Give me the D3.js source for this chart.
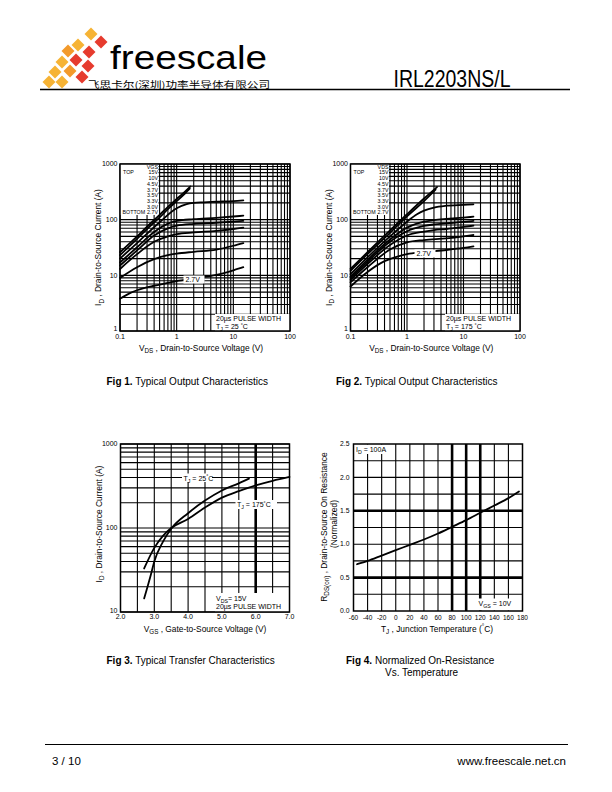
<!DOCTYPE html>
<html><head><meta charset="utf-8">
<script src="https://cdn.jsdelivr.net/npm/d3@7/dist/d3.min.js"></script>
<style>
body{margin:0;background:#fff}
svg{display:block}
text{font-family:"Liberation Sans",Arial,Helvetica,sans-serif;fill:#000}
</style>
</head><body>
<svg id="page" width="612" height="792"></svg>
<script>
// ---------------- DATA ----------------
const vgsLevels = ["15V","10V","4.5V","3.7V","3.5V","3.3V","3.0V","2.7V"];

// Fig 1: Typical output characteristics, TJ = 25 C  [VDS (V), ID (A)]
const fig1_15V  = [[0.1,26],[0.2,50],[0.3,75],[0.5,122],[0.7,170],[1,235],[1.4,320],[1.75,395]];
const fig1_10V  = [[0.1,23],[0.2,45],[0.3,68],[0.5,110],[0.7,155],[1,215],[1.4,295],[1.7,360]];
const fig1_4V5  = [[0.1,20],[0.2,38],[0.5,90],[1,160],[1.5,190],[2,200],[3,205],[5,210],[10,216],[15,222]];
const fig1_3V7  = [[0.1,17],[0.2,32],[0.4,60],[0.7,85],[1,95],[2,102],[5,108],[10,114],[15,118]];
const fig1_3V5  = [[0.1,15],[0.2,28],[0.4,52],[0.7,70],[1,78],[2,84],[5,88],[10,92],[15,95]];
const fig1_3V3  = [[0.1,13],[0.2,24],[0.4,40],[0.7,50],[1,55],[2,59],[5,63],[10,68],[15,72]];
const fig1_3V0  = [[0.1,9],[0.2,14],[0.4,19.5],[0.7,23],[1,24.5],[2,26.5],[5,29],[10,34],[15,38]];
const fig1_2V7  = [[0.1,3.8],[0.15,4.8],[0.2,5.4],[0.4,6.5],[0.7,7.3],[1,7.9],[2,8.8],[5,10.2],[10,12.3],[15,14]];
const fig1Curves = [fig1_15V,fig1_10V,fig1_4V5,fig1_3V7,fig1_3V5,fig1_3V3,fig1_3V0,fig1_2V7];

// Fig 2: Typical output characteristics, TJ = 175 C
const fig2_15V  = [[0.1,13],[0.2,26],[0.5,64],[1,125],[2,240],[3.4,385]];
const fig2_10V  = [[0.1,12],[0.2,24],[0.5,58],[1,115],[2,215],[3.2,345]];
const fig2_4V5  = [[0.1,10.5],[0.2,21],[0.5,50],[1,92],[1.5,125],[2,145],[3,165],[5,178],[10,185],[15,189]];
const fig2_3V7  = [[0.1,9.5],[0.2,19],[0.5,44],[1,72],[2,92],[3,98],[5,103],[10,109],[15,113]];
const fig2_3V5  = [[0.1,9],[0.2,17.5],[0.5,40],[1,62],[2,77],[3,82],[5,86],[10,91],[15,95]];
const fig2_3V3  = [[0.1,8.3],[0.2,16],[0.5,35],[1,52],[2,61],[3,65],[5,68],[10,74],[15,78]];
const fig2_3V0  = [[0.1,7.5],[0.2,14],[0.5,29],[1,39],[2,43],[5,46],[10,50],[15,53]];
const fig2_2V7  = [[0.1,6.3],[0.2,11.5],[0.4,18],[0.7,22],[1,24],[2,26],[5,28.5],[10,31],[15,33]];
const fig2Curves = [fig2_15V,fig2_10V,fig2_4V5,fig2_3V7,fig2_3V5,fig2_3V3,fig2_3V0,fig2_2V7];

// Fig 3: Typical transfer characteristics [VGS (V), ID (A)]
const fig3_25C  = [[2.7,14.5],[2.9,28],[3.0,40],[3.25,68],[3.5,98],[4.0,150],[4.5,212],[5.0,280],[5.5,340],[5.8,387]];
const fig3_175C = [[2.7,33],[3.0,58],[3.25,80],[3.5,100],[4.0,128],[4.5,175],[5.0,230],[5.5,275],[6.0,322],[6.5,365],[7.0,405]];

// Fig 4: Normalized on-resistance vs temperature [TJ (C), RDS(on) normalized]
const fig4Temp = [-55,-40,-20,0,20,40,60,80,100,120,140,160,175];
const fig4Rds  = [0.70,0.75,0.83,0.91,0.99,1.07,1.16,1.26,1.36,1.47,1.58,1.69,1.79];

// Tick labels
const logVdsTicks = [0.1,1,10,100];
const logVdsLabels = ["0.1","1","10","100"];
const logIdTicks = [1,10,100,1000];
const logIdLabels = ["1","10","100","1000"];
const fig3XTicks = [2,3,4,5,6,7];
const fig3XLabels = ["2.0","3.0","4.0","5.0","6.0","7.0"];
const fig3YTicks = [10,100,1000];
const fig3YLabels = ["10","100","1000"];
const fig3XGrid = [2.5,3,3.5,4,4.5,5,5.5,6,6.5];
const fig3XThick = [6];
const fig4XTicks = [-60,-40,-20,0,20,40,60,80,100,120,140,160,180];
const fig4YTicks = [0,0.5,1,1.5,2,2.5];
const fig4YLabels = ["0.0","0.5","1.0","1.5","2.0","2.5"];
const fig4XGrid = [-40,-20,0,20,40,60,80,100,120,140,160];
const fig4XThick = [80,100,120];
const fig4YGrid = [0.25,0.5,0.75,1,1.25,1.5,1.75,2,2.25];
const fig4YThick = [0.5,1.5];

// ---------------- DRAW ----------------
const svg = d3.select("#page");

// rich text: parts are strings or {sub:..} / {sup:..} / {b:..}
function rich(g, x, y, parts, size, opt) {
  opt = opt || {};
  const t = g.append("text").attr("x", x).attr("y", y).attr("font-size", size)
    .attr("text-anchor", opt.anchor || "start");
  if (opt.rotate) t.attr("transform", `rotate(-90,${x},${y})`);
  let shift = 0;
  parts.forEach(p => {
    if (typeof p === "string") {
      t.append("tspan").attr("dy", -shift).text(p); shift = 0;
    } else if (p.sub !== undefined) {
      const d = size * 0.3;
      t.append("tspan").attr("dy", d - shift).attr("font-size", size * 0.75).text(p.sub); shift = d;
    } else if (p.sup !== undefined) {
      const d = -size * 0.35;
      t.append("tspan").attr("dy", d - shift).attr("font-size", size * 0.75).text(p.sup); shift = d;
    } else if (p.b !== undefined) {
      t.append("tspan").attr("dy", -shift).attr("font-weight", "bold").text(p.b); shift = 0;
    }
  });
  return t;
}

function whiteBox(g, x0, y0, x1, y1) {
  g.append("rect").attr("x", x0).attr("y", y0).attr("width", x1 - x0).attr("height", y1 - y0).attr("fill", "#fff");
}

function gridAndFrame(g, x, y, xGrid, yGrid, xThick, yThick) {
  const [xl, xr] = x.range(), [yb, yt] = y.range();
  g.append("g").selectAll("line").data(xGrid).join("line")
    .attr("x1", d => x(d)).attr("x2", d => x(d)).attr("y1", yb).attr("y2", yt)
    .attr("stroke", "#000").attr("stroke-width", d => (xThick || []).includes(d) ? 2.6 : 1.1);
  g.append("g").selectAll("line").data(yGrid).join("line")
    .attr("y1", d => y(d)).attr("y2", d => y(d)).attr("x1", xl).attr("x2", xr)
    .attr("stroke", "#000").attr("stroke-width", d => (yThick || []).includes(d) ? 2.6 : 1.1);
}
function frame(g, x, y) {
  const [xl, xr] = x.range(), [yb, yt] = y.range();
  g.append("rect").attr("x", xl).attr("y", yt).attr("width", xr - xl).attr("height", yb - yt)
    .attr("fill", "none").attr("stroke", "#000").attr("stroke-width", 1.5);
}
function drawCurve(g, x, y, pts) {
  g.append("path").datum(pts)
    .attr("d", d3.line().x(d => x(d[0])).y(d => y(d[1])).curve(d3.curveMonotoneX))
    .attr("fill", "none").attr("stroke", "#000").attr("stroke-width", 1.8).attr("stroke-linecap", "round");
}
function xTickLabels(g, x, vals, labels, yb, size) {
  g.append("g").selectAll("text").data(vals).join("text")
    .attr("x", d => x(d)).attr("y", yb).attr("text-anchor", "middle").attr("font-size", size)
    .text((d, i) => labels[i]);
}
function yTickLabels(g, y, vals, labels, xr, size, bottomLift) {
  g.append("g").selectAll("text").data(vals).join("text")
    .attr("x", xr).attr("y", (d, i) => y(d) - (i === 0 ? (bottomLift || 0) : 0))
    .attr("dy", "0.33em").attr("text-anchor", "end").attr("font-size", size)
    .text((d, i) => labels[i]);
}

// ---- header ----
const header = svg.append("g");
const tiles = [[91,34,"#F6B335"],[101,42,"#E63B2E"],[78,45,"#F6B335"],[89,52,"#E63B2E"],[68,51,"#F39A2B"],
  [62,62,"#F6B335"],[76,60,"#E63B2E"],[88,66,"#E63B2E"],[55,72,"#F6B335"],[70,71,"#F39A2B"],[82,77,"#E63B2E"],
  [49,82,"#F6B335"],[62,82,"#F6B335"]];
header.selectAll("path.tile").data(tiles).join("path").attr("class","tile")
  .attr("d", d => `M${d[0]},${d[1]-6.5}L${d[0]+6.5},${d[1]}L${d[0]},${d[1]+6.5}L${d[0]-6.5},${d[1]}Z`)
  .attr("fill", d => d[2]);
header.append("text").attr("x", 110).attr("y", 69).attr("font-size", 34).attr("textLength", 157)
  .attr("lengthAdjust", "spacingAndGlyphs").text("freescale");
header.append("text").attr("x", 88).attr("y", 87.5).attr("font-size", 9)
  .style("font-family", '"Noto Sans CJK SC",sans-serif').attr("textLength", 182).attr("lengthAdjust", "spacingAndGlyphs")
  .text("飞思卡尔(深圳)功率半导体有限公司");
header.append("text").attr("x", 393.5).attr("y", 87).attr("font-size", 24).attr("textLength", 117)
  .attr("lengthAdjust", "spacingAndGlyphs").style("font-family", '"Liberation Sans Narrow","Liberation Sans",Arial,sans-serif')
  .text("IRL2203NS/L");
header.append("line").attr("x1", 40).attr("x2", 570).attr("y1", 89.5).attr("y2", 89.5).attr("stroke", "#000").attr("stroke-width", 1.3);

// ---- footer ----
svg.append("line").attr("x1", 45).attr("x2", 568).attr("y1", 744.5).attr("y2", 744.5).attr("stroke", "#000").attr("stroke-width", 1);
svg.append("text").attr("x", 52).attr("y", 765).attr("font-size", 11.5).text("3 / 10");
svg.append("text").attr("x", 566).attr("y", 765).attr("font-size", 11.5).attr("text-anchor", "end").text("www.freescale.net.cn");

// ---- Fig 1 & 2 (output characteristics) ----
function outputPanel(left, right, curves, legendTitle, tempLabel, label27) {
  const g = svg.append("g");
  const x = d3.scaleLog().domain([0.1, 100]).range([left, right]);
  const y = d3.scaleLog().domain([1, 1000]).range([331, 164]);
  gridAndFrame(g, x, y, x.ticks(), y.ticks());
  whiteBox(g, left, 164, left + 38.5, 215);
  whiteBox(g, right - 75, 314, right, 331);
  curves.forEach(c => drawCurve(g, x, y, c));
  whiteBox(g, label27[0] - 2, label27[1] - 6.5, label27[0] + 19, label27[1] + 1.5);
  g.append("text").attr("x", label27[0]).attr("y", label27[1]).attr("font-size", 7).text("2.7V");
  frame(g, x, y);
  const lx = left + 38, step = 5.7, l0 = 168.7;
  const leg = g.append("g");
  rich(leg, lx, l0, [legendTitle], 5.3, {anchor: "end"});
  vgsLevels.forEach((v, i) => rich(leg, lx, l0 + step * (i + 1), [v], 5.3, {anchor: "end"}));
  rich(leg, left + 3, l0 + step, ["TOP"], 5.3);
  rich(leg, left + 2.5, l0 + step * 8, ["BOTTOM"], 5.3);
  rich(g, right - 74, 321, ["20µs PULSE WIDTH"], 7);
  rich(g, right - 74, 329, ["T", {sub: "J"}, " = ", tempLabel, " ", {sup: "°"}, "C"], 7);
  xTickLabels(g, x, logVdsTicks, logVdsLabels, 339, 7);
  yTickLabels(g, y, logIdTicks, logIdLabels, left - 2.5, 7, 2.5);
  rich(g, (left + right) / 2 - 4, 350.5, ["V", {sub: "DS"}, " , Drain-to-Source Voltage (V)"], 8.4, {anchor: "middle"});
  rich(g, left - 19, 247.5, ["I", {sub: "D"}, " , Drain-to-Source Current (A)"], 8.4, {anchor: "middle", rotate: true});
  return g;
}
outputPanel(120, 290, fig1Curves, "VGS", "25", [185.5, 282]);
outputPanel(350.5, 520, fig2Curves, "VDS", "175", [416.5, 256]);

// ---- Fig 3 ----
(function() {
  const g = svg.append("g");
  const x = d3.scaleLinear().domain([2, 7]).range([120.5, 289.5]);
  const y = d3.scaleLog().domain([10, 1000]).range([612, 444]);
  gridAndFrame(g, x, y, fig3XGrid, y.ticks(), fig3XThick, []);
  whiteBox(g, 215, 593, 289.5, 612);
  drawCurve(g, x, y, fig3_25C);
  drawCurve(g, x, y, fig3_175C);
  whiteBox(g, 182, 473.5, 212, 482);
  rich(g, 183.5, 480.5, ["T", {sub: "J"}, " = 25", {sup: "°"}, "C"], 7);
  whiteBox(g, 235.5, 500, 277, 509);
  rich(g, 237, 507, ["T", {sub: "J"}, " = 175", {sup: "°"}, "C"], 7);
  frame(g, x, y);
  rich(g, 216, 600.5, ["V", {sub: "DS"}, "= 15V"], 7);
  rich(g, 216, 609, ["20µs PULSE WIDTH"], 7);
  xTickLabels(g, x, fig3XTicks, fig3XLabels, 619, 7);
  yTickLabels(g, y, fig3YTicks, fig3YLabels, 117.5, 7, 1.5);
  rich(g, 205, 631.5, ["V", {sub: "GS"}, " , Gate-to-Source Voltage (V)"], 8.4, {anchor: "middle"});
  rich(g, 101.5, 524, ["I", {sub: "D"}, " , Drain-to-Source Current (A)"], 8.4, {anchor: "middle", rotate: true});
})();

// ---- Fig 4 ----
(function() {
  const g = svg.append("g");
  const x = d3.scaleLinear().domain([-60, 180]).range([353.5, 522.5]);
  const y = d3.scaleLinear().domain([0, 2.5]).range([611, 444]);
  gridAndFrame(g, x, y, fig4XGrid, fig4YGrid, fig4XThick, fig4YThick);
  whiteBox(g, 354.5, 444.5, 394, 454);
  whiteBox(g, 476.5, 598.5, 522, 610.5);
  drawCurve(g, x, y, fig4Temp.map((t, i) => [t, fig4Rds[i]]));
  frame(g, x, y);
  rich(g, 356, 451.5, ["I", {sub: "D"}, " = 100A"], 7);
  rich(g, 478.5, 605.5, ["V", {sub: "GS"}, " = 10V"], 7);
  xTickLabels(g, x, fig4XTicks, fig4XTicks.map(String), 620, 6.5);
  yTickLabels(g, y, fig4YTicks, fig4YLabels, 349.5, 6.8, 0);
  rich(g, 437, 631.5, ["T", {sub: "J"}, " , Junction Temperature  (", {sup: "°"}, "C)"], 8.4, {anchor: "middle"});
  rich(g, 326.5, 527, ["R", {sub: "DS(on)"}, " , Drain-to-Source On Resistance"], 8.4, {anchor: "middle", rotate: true});
  rich(g, 337, 524, ["(Normalized)"], 8.4, {anchor: "middle", rotate: true});
})();

// ---- captions ----
rich(svg, 106.5, 385, [{b: "Fig 1."}, "  Typical Output Characteristics"], 10);
rich(svg, 336, 385, [{b: "Fig 2."}, "  Typical Output Characteristics"], 10);
rich(svg, 106.5, 664, [{b: "Fig 3."}, "  Typical Transfer Characteristics"], 10);
rich(svg, 346, 664, [{b: "Fig 4."}, "  Normalized On-Resistance"], 10);
rich(svg, 385, 676, ["Vs. Temperature"], 10);
</script>
</body></html>
